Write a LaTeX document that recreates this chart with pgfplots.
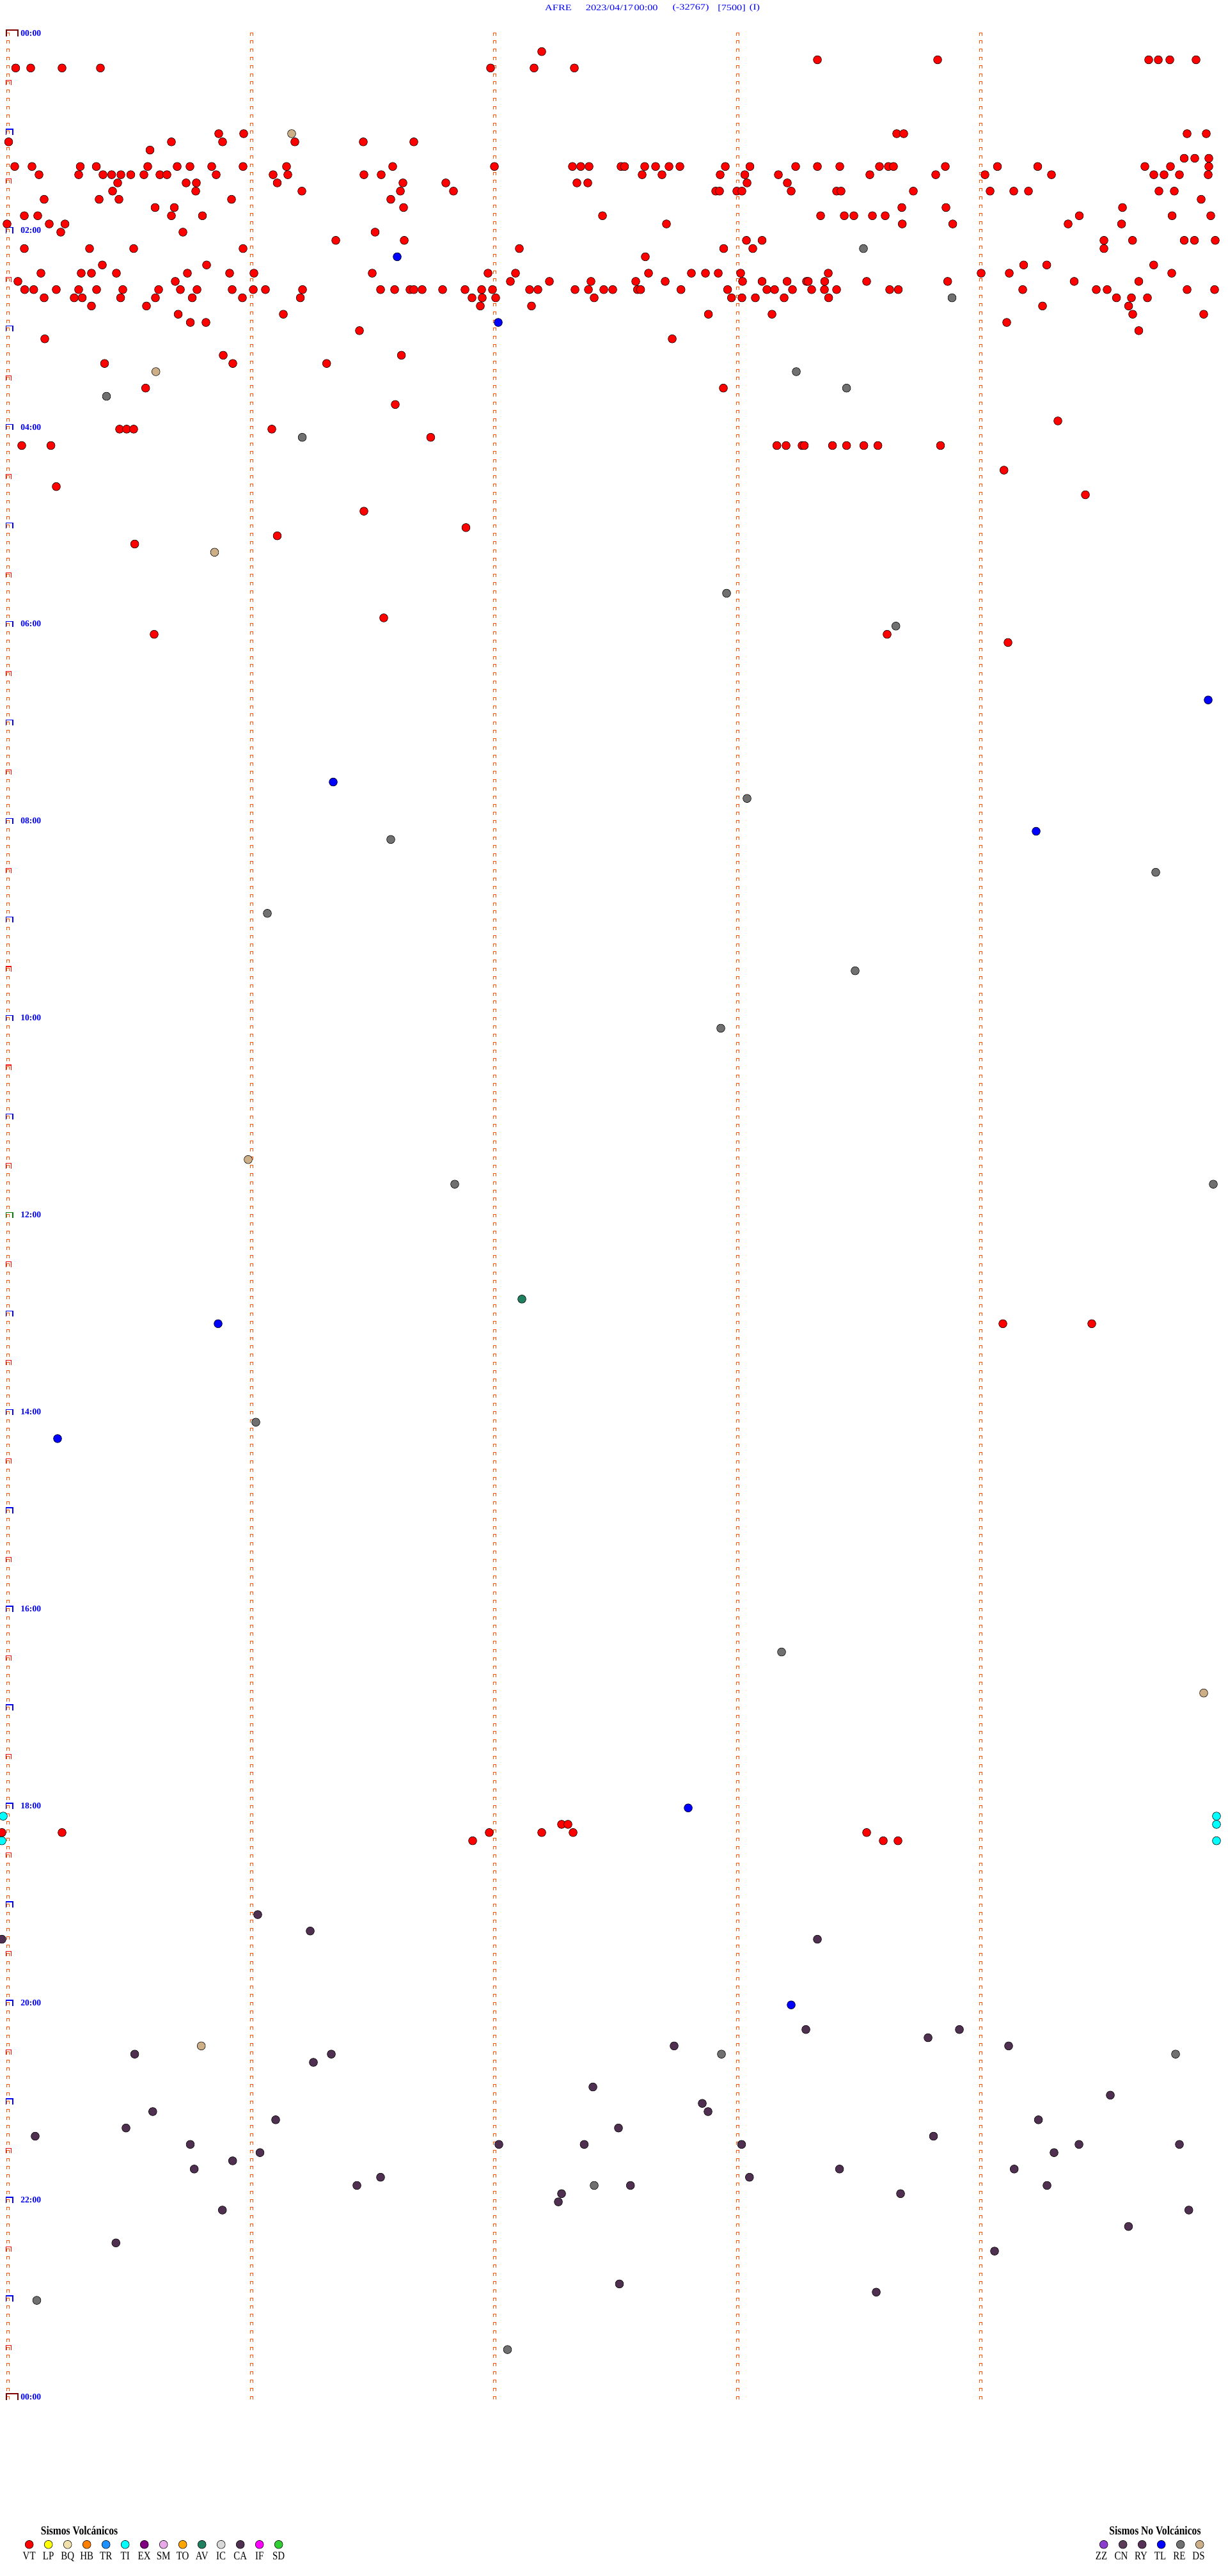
\documentclass[border=0pt]{standalone}
\usepackage{pgfplots}
\pgfplotsset{compat=1.18}
\usepackage{graphicx}
\usepackage{fontspec}
\setmainfont{Liberation Serif}

\definecolor{colmark}{RGB}{255,80,0}
\definecolor{cVT}{RGB}{255,0,0}
\definecolor{cLP}{RGB}{255,255,0}
\definecolor{cBQ}{RGB}{240,224,170}
\definecolor{cHB}{RGB}{255,128,0}
\definecolor{cTR}{RGB}{30,144,255}
\definecolor{cTI}{RGB}{0,255,255}
\definecolor{cEX}{RGB}{128,0,128}
\definecolor{cSM}{RGB}{232,168,232}
\definecolor{cTO}{RGB}{255,165,0}
\definecolor{cAV}{RGB}{31,127,95}
\definecolor{cIC}{RGB}{216,216,216}
\definecolor{cCA}{RGB}{80,48,80}
\definecolor{cIF}{RGB}{255,0,255}
\definecolor{cSD}{RGB}{50,205,50}
\definecolor{cZZ}{RGB}{140,60,205}
\definecolor{cCN}{RGB}{90,60,90}
\definecolor{cRY}{RGB}{85,50,85}
\definecolor{cTL}{RGB}{0,0,255}
\definecolor{cRE}{RGB}{112,112,112}
\definecolor{cDS}{RGB}{205,175,135}
\definecolor{hourblue}{RGB}{0,0,255}
\definecolor{daydark}{RGB}{128,0,0}
\definecolor{noongreen}{RGB}{0,128,0}

% half-hour marker
\pgfdeclareplotmark{halfh}{%
  \pgfpathmoveto{\pgfqpoint{-1.6pt}{-0.5pt}}%
  \pgfpathlineto{\pgfqpoint{-1.6pt}{3.3pt}}%
  \pgfpathlineto{\pgfqpoint{2.4pt}{3.3pt}}%
  \pgfpathlineto{\pgfqpoint{2.4pt}{-0.5pt}}%
  \pgfusepathqstroke}
% hour marker
\pgfdeclareplotmark{hourm}{%
  \pgfpathmoveto{\pgfqpoint{-1.7pt}{-0.8pt}}%
  \pgfpathlineto{\pgfqpoint{-1.7pt}{3.6pt}}%
  \pgfpathlineto{\pgfqpoint{3.6pt}{3.6pt}}%
  \pgfpathlineto{\pgfqpoint{3.6pt}{-0.8pt}}%
  \pgfusepathqstroke}
% day marker
\pgfdeclareplotmark{daym}{%
  \pgfpathmoveto{\pgfqpoint{-1.6pt}{-1.2pt}}%
  \pgfpathlineto{\pgfqpoint{-1.6pt}{4.0pt}}%
  \pgfpathlineto{\pgfqpoint{7.6pt}{4.0pt}}%
  \pgfpathlineto{\pgfqpoint{7.6pt}{-1.2pt}}%
  \pgfusepathqstroke}

\pgfplotsset{
  ev/.style={only marks, mark=*, mark size=3.2pt, forget plot,
    mark options={draw=black, fill=#1, line width=0.3pt, solid}},
  colbar/.style={forget plot, mark=none, draw=colmark, line width=2.5pt, dash pattern=on 0.5pt off 5.915pt},
  colleg/.style={forget plot, mark=none, draw=colmark, line width=0.5pt, dash pattern=on 2.5pt off 3.915pt},
}
\newcommand\hl[1]{{\fontsize{6.8}{8}\selectfont\bfseries #1}}
\newcommand\ttl[1]{\scalebox{1.25}[1]{\fontsize{6.5}{7}\selectfont #1}}
\newcommand\lgt[1]{\scalebox{0.82}[1]{\fontsize{9.5}{11}\selectfont\bfseries #1}}
\newcommand\lgl[1]{\scalebox{0.83}[1]{\fontsize{9}{10}\selectfont #1}}

\begin{document}
\begin{tikzpicture}
\useasboundingbox (0,0) rectangle (960pt,2013.5pt);
\begin{axis}[
  at={(6.5pt,1986pt)}, anchor=north west,
  scale only axis, width=950pt, height=1847.52pt,
  xmin=13, xmax=1913, ymin=0, ymax=288, y dir=reverse,
  hide axis, clip=false,
]
% ---- column markers (1-minute divisions, one mark per 5-min row)
\pgfplotsinvokeforeach{13,393,773,1153,1533}{
  \addplot[colbar] coordinates {(#1,-0.35) (#1,288.5)};
}
\pgfplotsinvokeforeach{11,15,391,395,771,775,1151,1155,1531,1535}{
  \addplot[colleg] coordinates {(#1,-0.35) (#1,288.5)};
}
% ---- half-hour / hour / day markers
\addplot[forget plot, only marks, mark=halfh, draw=red, mark options={line width=0.55pt}] coordinates {
(13,6) (13,18) (13,30) (13,42) (13,54) (13,66) (13,78) (13,90) (13,102) (13,114) (13,126) (13,138)
(13,150) (13,162) (13,174) (13,186) (13,198) (13,210) (13,222) (13,234) (13,246) (13,258) (13,270) (13,282)};
\addplot[forget plot, only marks, mark=hourm, draw=hourblue, mark options={line width=0.75pt}] coordinates {
(13,12) (13,24) (13,36) (13,48) (13,60) (13,72) (13,84) (13,96) (13,108) (13,120) (13,132)
(13,156) (13,168) (13,180) (13,192) (13,204) (13,216) (13,228) (13,240) (13,252) (13,264) (13,276)};
\addplot[forget plot, only marks, mark=hourm, draw=noongreen, mark options={line width=0.75pt}] coordinates {(13,144)};
\addplot[forget plot, only marks, mark=daym, draw=daydark, mark options={line width=1.1pt}] coordinates {(13,0) (13,288)};

% ---- hour labels
\node[anchor=west, inner sep=0, text=hourblue] at (axis cs:32,-0.25) {\hl{00:00}};
\node[anchor=west, inner sep=0, text=hourblue] at (axis cs:32,23.75) {\hl{02:00}};
\node[anchor=west, inner sep=0, text=hourblue] at (axis cs:32,47.75) {\hl{04:00}};
\node[anchor=west, inner sep=0, text=hourblue] at (axis cs:32,71.75) {\hl{06:00}};
\node[anchor=west, inner sep=0, text=hourblue] at (axis cs:32,95.75) {\hl{08:00}};
\node[anchor=west, inner sep=0, text=hourblue] at (axis cs:32,119.75) {\hl{10:00}};
\node[anchor=west, inner sep=0, text=hourblue] at (axis cs:32,143.75) {\hl{12:00}};
\node[anchor=west, inner sep=0, text=hourblue] at (axis cs:32,167.75) {\hl{14:00}};
\node[anchor=west, inner sep=0, text=hourblue] at (axis cs:32,191.75) {\hl{16:00}};
\node[anchor=west, inner sep=0, text=hourblue] at (axis cs:32,215.75) {\hl{18:00}};
\node[anchor=west, inner sep=0, text=hourblue] at (axis cs:32,239.75) {\hl{20:00}};
\node[anchor=west, inner sep=0, text=hourblue] at (axis cs:32,263.75) {\hl{22:00}};
\node[anchor=west, inner sep=0, text=hourblue] at (axis cs:32,287.75) {\hl{00:00}};

% ---- title
\node[inner sep=0, text=hourblue] at (axis cs:873,-3.3) {\ttl{AFRE}};
\node[inner sep=0, text=hourblue] at (axis cs:953,-3.3) {\ttl{2023/04/17}};
\node[inner sep=0, text=hourblue] at (axis cs:1010,-3.3) {\ttl{00:00}};
\node[inner sep=0, text=hourblue] at (axis cs:1080,-3.3) {\ttl{(-32767)}};
\node[inner sep=0, text=hourblue] at (axis cs:1144,-3.3) {\ttl{[7500]}};
\node[inner sep=0, text=hourblue] at (axis cs:1180,-3.3) {\ttl{(I)}};

% ---- events: VT (volcano-tectonic)
\addplot[ev=cVT] coordinates {
(847,2)
(1278,3) (1466,3) (1796,3) (1811,3) (1829,3) (1870,3)
(24.5,4) (48,4) (97,4) (157,4) (767,4) (835,4) (898,4)
(342,12) (381,12) (1402,12) (1413,12) (1856,12) (1886,12)
(13.5,13) (268,13) (348,13) (461,13) (568,13) (647,13)
(234.5,14)
(1851.5,15) (1868,15) (1890,15)
(23,16) (50,16) (125.5,16) (150.6,16) (231,16) (277,16) (297,16) (331,16) (380,16) (448,16) (614,16) (773,16) (895,16) (908,16) (921,16) (971,16) (976.5,16) (1008,16) (1025,16) (1046,16) (1063,16) (1134,16) (1172.5,16) (1244,16) (1278,16) (1313,16) (1375,16) (1389,16) (1397,16) (1478,16) (1559.5,16) (1622.5,16) (1790,16) (1830,16) (1890,16)
(61,17) (123,17) (161,17) (174.5,17) (189,17) (204.5,17) (225,17) (250,17) (261,17) (338,17) (427,17) (450,17) (569,17) (596,17) (1004,17) (1035,17) (1126,17) (1164.5,17) (1217,17) (1360,17) (1463,17) (1540,17) (1644,17) (1804,17) (1820,17) (1844,17) (1889,17)
(184,18) (291,18) (307,18) (433.5,18) (630,18) (697,18) (902,18) (919,18) (1168,18) (1231,18)
(176,19) (306,19) (472,19) (626,19) (709,19) (1119,19) (1125,19) (1152,19) (1160,19) (1237,19) (1308,19) (1315,19) (1428,19) (1548,19) (1585,19) (1608,19) (1812,19) (1836,19)
(69,20) (155,20) (186,20) (362,20) (611,20) (1878,20)
(242.5,21) (272.5,21) (631,21) (1410,21) (1479,21) (1755,21)
(38,22) (59,22) (268,22) (316.5,22) (942,22) (1283,22) (1320,22) (1335,22) (1364,22) (1384,22) (1687.5,22) (1832.6,22) (1893,22)
(11,23) (77,23) (101.6,23) (1042,23) (1410.7,23) (1489.6,23) (1670,23) (1753.6,23)
(95,24) (286,24) (586.5,24)
(525,25) (632,25) (1167,25) (1191.5,25) (1726,25) (1770.7,25) (1851.5,25) (1867.5,25) (1900,25)
(38,26) (140,26) (209,26) (380,26) (812,26) (1131.5,26) (1177,26) (1726,26)
(1009,27)
(160,28) (323,28) (1600.5,28) (1636.6,28) (1803.8,28)
(64,29) (127,29) (143,29) (182,29) (293,29) (359,29) (397,29) (582,29) (763,29) (806,29) (1014,29) (1081,29) (1103,29) (1123,29) (1158,29) (1295,29) (1534,29) (1578,29) (1832,29)
(28,30) (274,30) (798,30) (859,30) (924,30) (994,30) (1040,30) (1161,30) (1191.5,30) (1230.6,30) (1261,30) (1263.7,30) (1289.4,30) (1355,30) (1481.7,30) (1679.5,30) (1780.5,30)
(38.6,31) (52.7,31) (88,31) (123,31) (151,31) (192,31) (248,31) (282,31) (308,31) (363,31) (396,31) (415,31) (473,31) (595,31) (617,31) (641,31) (647,31) (660,31) (692,31) (727,31) (753,31) (770,31) (828,31) (841,31) (899,31) (920,31) (944,31) (958,31) (996.7,31) (1001.6,31) (1064.7,31) (1137.6,31) (1199,31) (1211,31) (1239,31) (1269,31) (1289,31) (1308,31) (1391,31) (1404.5,31) (1599,31) (1714,31) (1731,31) (1856,31) (1899,31)
(69,32) (116,32) (128.6,32) (188.6,32) (243,32) (300.6,32) (379,32) (469.6,32) (738,32) (754,32) (775,32) (929,32) (1143.7,32) (1160,32) (1181,32) (1226,32) (1295.6,32) (1745.6,32) (1769,32) (1794,32)
(143,33) (229,33) (751,33) (831,33) (1630,33) (1764.6,33)
(278.6,34) (443,34) (1107.6,34) (1207,34) (1771,34) (1882,34)
(297.6,35) (322,35) (1574,35)
(562,36) (1780.5,36)
(70,37) (1051,37)
(349,39) (627.6,39)
(163.5,40) (364,40) (510.7,40)
(227.7,43) (1131,43)
(618,45)
(1654,47)
(187,48) (198,48) (209,48) (425,48)
(673.4,49)
(34,50) (79.6,50) (1214.6,50) (1229,50) (1254,50) (1257.5,50) (1301.6,50) (1323.6,50) (1350.6,50) (1372.6,50) (1470.5,50)
(1569.7,53)
(88,55)
(1697,56)
(569,58)
(728.5,60)
(433.5,61)
(210.6,62)
(600,71)
(241,73) (1387,73)
(1576,74)
(1568,157) (1707,157)
(878,218) (888,218)
(3,219) (97,219) (765,219) (847,219) (896,219) (1355,219)
(739,220) (1381,220) (1404,220)
};
% RE (regional)
\addplot[ev=cRE] coordinates {
(1350,26) (1488.5,32) (1245,41) (1323.6,43) (166.5,44) (472.6,49) (1136,68) (1400.7,72)
(1168,93) (611,98) (1807,102) (418,107) (1337,114) (1127,121) (711,140) (1897,140)
(400,169) (1222,197) (1128,246) (1838,246) (929,262) (57.5,276) (793.5,282)
};
% DS
\addplot[ev=cDS] coordinates {
(456,12) (243.7,41) (335.5,63) (388,137) (1882,202) (314.7,245)
};
% TL (tele-seismic / local)
\addplot[ev=cTL] coordinates {
(621,27) (779,35) (1889,81) (521,91) (1620,97) (341,157) (90,171) (1076,216) (1237,240)
};
% TI
\addplot[ev=cTI] coordinates {
(5,217) (1902,217) (1902,218) (3,220) (1902,220)
};
% AV
\addplot[ev=cAV] coordinates {(816,154)};
% CA
\addplot[ev=cCA] coordinates {
(403,229) (485,231) (3,232) (1278,232)
(1260,243) (1500,243) (1451,244) (1054,245) (1577,245)
(210.6,246) (518,246) (490,247) (927,250) (1736,251) (1098,252)
(238.8,253) (1107,253) (431,254) (1623.6,254) (197,255) (967,255)
(55,256) (1459.5,256)
(297.5,257) (780,257) (913.4,257) (1159.5,257) (1687,257) (1844,257)
(406.5,258) (1648,258) (363.7,259) (303.7,260) (1312.6,260) (1585.7,260)
(595,261) (1171.8,261) (558,262) (985.7,262) (1637,262) (878,263) (1408,263)
(873,264) (347.7,265) (1858.7,265) (1764.4,267) (181.2,269) (1555,270) (968.5,274) (1370,275)
};

% ---- legend: Sismos Volcanicos
\node[anchor=base, inner sep=0] at (axis cs:124,304.55) {\lgt{Sismos Volcánicos}};
\addplot[ev=cVT] coordinates {(45.7,305.75)};
\addplot[ev=cLP] coordinates {(75.7,305.75)};
\addplot[ev=cBQ] coordinates {(105.7,305.75)};
\addplot[ev=cHB] coordinates {(135.7,305.75)};
\addplot[ev=cTR] coordinates {(165.7,305.75)};
\addplot[ev=cTI] coordinates {(195.7,305.75)};
\addplot[ev=cEX] coordinates {(225.7,305.75)};
\addplot[ev=cSM] coordinates {(255.7,305.75)};
\addplot[ev=cTO] coordinates {(285.7,305.75)};
\addplot[ev=cAV] coordinates {(315.7,305.75)};
\addplot[ev=cIC] coordinates {(345.7,305.75)};
\addplot[ev=cCA] coordinates {(375.7,305.75)};
\addplot[ev=cIF] coordinates {(405.7,305.75)};
\addplot[ev=cSD] coordinates {(435.7,305.75)};
\node[anchor=base, inner sep=0] at (axis cs:45.7,307.6) {\lgl{VT}};
\node[anchor=base, inner sep=0] at (axis cs:75.7,307.6) {\lgl{LP}};
\node[anchor=base, inner sep=0] at (axis cs:105.7,307.6) {\lgl{BQ}};
\node[anchor=base, inner sep=0] at (axis cs:135.7,307.6) {\lgl{HB}};
\node[anchor=base, inner sep=0] at (axis cs:165.7,307.6) {\lgl{TR}};
\node[anchor=base, inner sep=0] at (axis cs:195.7,307.6) {\lgl{TI}};
\node[anchor=base, inner sep=0] at (axis cs:225.7,307.6) {\lgl{EX}};
\node[anchor=base, inner sep=0] at (axis cs:255.7,307.6) {\lgl{SM}};
\node[anchor=base, inner sep=0] at (axis cs:285.7,307.6) {\lgl{TO}};
\node[anchor=base, inner sep=0] at (axis cs:315.7,307.6) {\lgl{AV}};
\node[anchor=base, inner sep=0] at (axis cs:345.7,307.6) {\lgl{IC}};
\node[anchor=base, inner sep=0] at (axis cs:375.7,307.6) {\lgl{CA}};
\node[anchor=base, inner sep=0] at (axis cs:405.7,307.6) {\lgl{IF}};
\node[anchor=base, inner sep=0] at (axis cs:435.7,307.6) {\lgl{SD}};

% ---- legend: Sismos No Volcanicos
\node[anchor=base, inner sep=0] at (axis cs:1806,304.55) {\lgt{Sismos No Volcánicos}};
\addplot[ev=cZZ] coordinates {(1725.7,305.75)};
\addplot[ev=cCN] coordinates {(1755.7,305.75)};
\addplot[ev=cRY] coordinates {(1785.7,305.75)};
\addplot[ev=cTL] coordinates {(1815.7,305.75)};
\addplot[ev=cRE] coordinates {(1845.7,305.75)};
\addplot[ev=cDS] coordinates {(1875.7,305.75)};
\node[anchor=base, inner sep=0] at (axis cs:1722,307.6) {\lgl{ZZ}};
\node[anchor=base, inner sep=0] at (axis cs:1753,307.6) {\lgl{CN}};
\node[anchor=base, inner sep=0] at (axis cs:1784,307.6) {\lgl{RY}};
\node[anchor=base, inner sep=0] at (axis cs:1814,307.6) {\lgl{TL}};
\node[anchor=base, inner sep=0] at (axis cs:1844,307.6) {\lgl{RE}};
\node[anchor=base, inner sep=0] at (axis cs:1874,307.6) {\lgl{DS}};
\end{axis}
\end{tikzpicture}
\end{document}
